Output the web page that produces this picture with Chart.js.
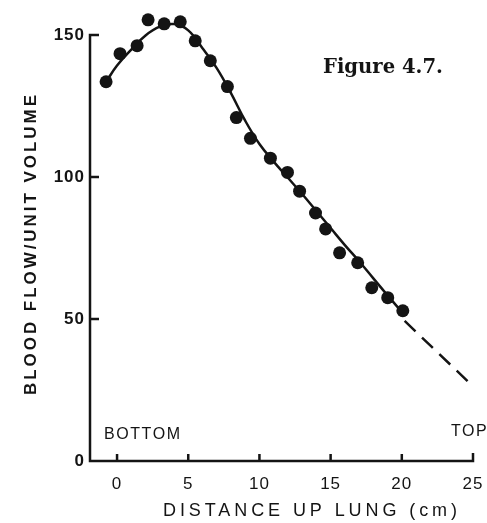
<!DOCTYPE html>
<html>
<head>
<meta charset="utf-8">
<script src="https://cdn.jsdelivr.net/npm/chart.js@4/dist/chart.umd.min.js"></script>
<style>
  html, body { margin: 0; padding: 0; background: #ffffff; }
  canvas { display: block; }
</style>
</head>
<body>
<canvas id="chart" width="487" height="523"></canvas>
<script>
// Measured points: distance up the lung (cm) and blood flow per unit volume
const distanceCm = [-0.77, 0.21, 1.41, 2.18, 3.31, 4.44, 5.49, 6.55, 7.75, 8.38, 9.37, 10.77, 11.97, 12.82, 13.94, 14.65, 15.63, 16.90, 17.89, 19.01, 20.07];
const bloodFlow  = [133.5, 143.4, 146.2, 155.3, 153.9, 154.6, 147.9, 140.9, 131.8, 120.9, 113.6, 106.6, 101.6, 95.0, 87.3, 81.7, 73.3, 69.8, 61.0, 57.5, 52.9];

// Smooth fitted curve (solid)
const fitDistance = [-0.77, 0, 1, 2, 3, 4, 5, 6, 7, 8, 9, 10, 11, 12, 13, 14, 15, 16, 17, 18, 19, 20];
const fitFlow     = [133.5, 139.2, 144.8, 149.8, 152.9, 153.8, 151.6, 145.3, 138.3, 129.5, 119.8, 111.6, 105.4, 99.7, 94, 88, 82, 76, 70.3, 64.3, 58.3, 52.5];

// Extrapolated part (dashed)
const extDistance = [20.2, 25];
const extFlow     = [49.3, 26.3];

// Axis ticks
const xTicks = [0, 5, 10, 15, 20, 25];
const yTicks = [0, 50, 100, 150];

const xTitle = 'DISTANCE UP LUNG (cm)';
const yTitle = 'BLOOD FLOW/UNIT VOLUME';
const bottomLabel = 'BOTTOM';
const topLabel = 'TOP';
const figureLabel = 'Figure 4.7.';

const INK = '#141414';
const SANS = '"Liberation Sans", Arial, sans-serif';

const toXY = (xs, ys) => xs.map((v, i) => ({ x: v, y: ys[i] }));

// draw text stretched by letter spacing to a target width, starting at `left`
function spacedText(ctx, text, left, y, font, width) {
  ctx.save();
  ctx.font = font;
  ctx.letterSpacing = '0px';
  const w0 = ctx.measureText(text).width;
  const sp = text.length > 1 ? (width - w0) / (text.length - 1) : 0;
  ctx.letterSpacing = sp + 'px';
  ctx.textAlign = 'left';
  ctx.fillText(text, left, y);
  ctx.restore();
}

const framePlugin = {
  id: 'frame',
  beforeDraw(chart) {
    chart.ctx.letterSpacing = '1px';
  },
  beforeDatasetsDraw(chart) {
    const { ctx, chartArea, scales: { x, y } } = chart;
    const x0 = chartArea.left;
    const yBase = y.getPixelForValue(yTicks[0]);
    const yTop = y.getPixelForValue(yTicks[yTicks.length - 1]);
    const xEnd = x.getPixelForValue(xTicks[xTicks.length - 1]);
    ctx.save();
    ctx.strokeStyle = INK;
    ctx.lineWidth = 2.5;
    ctx.lineCap = 'butt';
    ctx.lineJoin = 'miter';
    ctx.beginPath();
    ctx.moveTo(x0 + 9, yTop);
    ctx.lineTo(x0, yTop);
    ctx.lineTo(x0, yBase);
    ctx.lineTo(xEnd, yBase);
    ctx.lineTo(xEnd, yBase - 8);
    yTicks.slice(1, -1).forEach(v => {
      const py = y.getPixelForValue(v);
      ctx.moveTo(x0, py);
      ctx.lineTo(x0 + 9, py);
    });
    xTicks.slice(0, -1).forEach(v => {
      const px = x.getPixelForValue(v);
      ctx.moveTo(px, yBase);
      ctx.lineTo(px, yBase - 7);
    });
    ctx.stroke();
    ctx.restore();
  },
  afterDraw(chart) {
    const { ctx } = chart;
    ctx.save();
    ctx.fillStyle = INK;
    ctx.textBaseline = 'middle';

    // x axis title
    spacedText(ctx, xTitle, 163, 511, 'normal 18px ' + SANS, 294);

    // y axis title (rotated)
    ctx.save();
    ctx.translate(31, 245);
    ctx.rotate(-Math.PI / 2);
    spacedText(ctx, yTitle, -150, 0, 'bold 17px ' + SANS, 300);
    ctx.restore();

    // BOTTOM / TOP markers
    const mFont = 'normal 16px ' + SANS;
    ctx.font = mFont;
    ctx.letterSpacing = '0px';
    const wb = ctx.measureText(bottomLabel).width;
    const spB = (76 - wb) / (bottomLabel.length - 1);
    spacedText(ctx, bottomLabel, 104, 435, mFont, 76);
    ctx.font = mFont;
    ctx.letterSpacing = '0px';
    const wt = ctx.measureText(topLabel).width + spB * (topLabel.length - 1);
    spacedText(ctx, topLabel, 451, 432, mFont, wt);

    // Figure label
    ctx.letterSpacing = '0px';
    ctx.font = 'bold 20px "DejaVu Serif", serif';
    const wf = ctx.measureText(figureLabel).width;
    const fs = 20 * 120 / wf;
    ctx.font = 'bold ' + fs.toFixed(2) + 'px "DejaVu Serif", serif';
    ctx.textBaseline = 'alphabetic';
    ctx.textAlign = 'left';
    ctx.fillText(figureLabel, 323, 73);
    ctx.restore();
  }
};

new Chart(document.getElementById('chart'), {
  type: 'scatter',
  data: {
    datasets: [
      {
        label: 'Measured',
        data: toXY(distanceCm, bloodFlow),
        showLine: false,
        pointRadius: 6.5,
        pointHoverRadius: 6.5,
        pointBackgroundColor: INK,
        pointBorderColor: INK,
        pointBorderWidth: 0,
        clip: false
      },
      {
        label: 'Fit',
        data: toXY(fitDistance, fitFlow),
        showLine: true,
        borderColor: INK,
        borderWidth: 2.5,
        pointRadius: 0,
        tension: 0.4,
        fill: false,
        clip: false
      },
      {
        label: 'Extrapolated',
        data: toXY(extDistance, extFlow),
        showLine: true,
        borderColor: INK,
        borderWidth: 2.5,
        borderDash: [15, 9],
        pointRadius: 0,
        fill: false,
        clip: false
      }
    ]
  },
  options: {
    responsive: false,
    animation: false,
    events: [],
    layout: { padding: { left: 0, right: 14, top: 4.5, bottom: 0 } },
    plugins: {
      legend: { display: false },
      tooltip: { enabled: false },
      title: { display: false }
    },
    scales: {
      x: {
        type: 'linear',
        position: 'bottom',
        min: -1.9,
        max: 25,
        grid: { display: false, drawTicks: false },
        border: { display: false },
        afterBuildTicks: s => { s.ticks = xTicks.map(v => ({ value: v })); },
        afterFit: s => { s.height = 62; s.paddingLeft = 0; s.paddingRight = 0; },
        ticks: {
          color: INK,
          padding: 13,
          maxRotation: 0,
          autoSkip: false,
          font: { family: SANS, size: 17, weight: 'normal' }
        }
      },
      y: {
        type: 'linear',
        position: 'left',
        min: 0,
        max: 160,
        grid: { display: false, drawTicks: false },
        border: { display: false },
        afterBuildTicks: s => { s.ticks = yTicks.map(v => ({ value: v })); },
        afterFit: s => { s.width = 90; s.paddingTop = 0; s.paddingBottom = 0; },
        ticks: {
          color: INK,
          padding: 5,
          autoSkip: false,
          font: { family: SANS, size: 17, weight: 'bold' }
        }
      }
    }
  },
  plugins: [framePlugin]
});
</script>
</body>
</html>
